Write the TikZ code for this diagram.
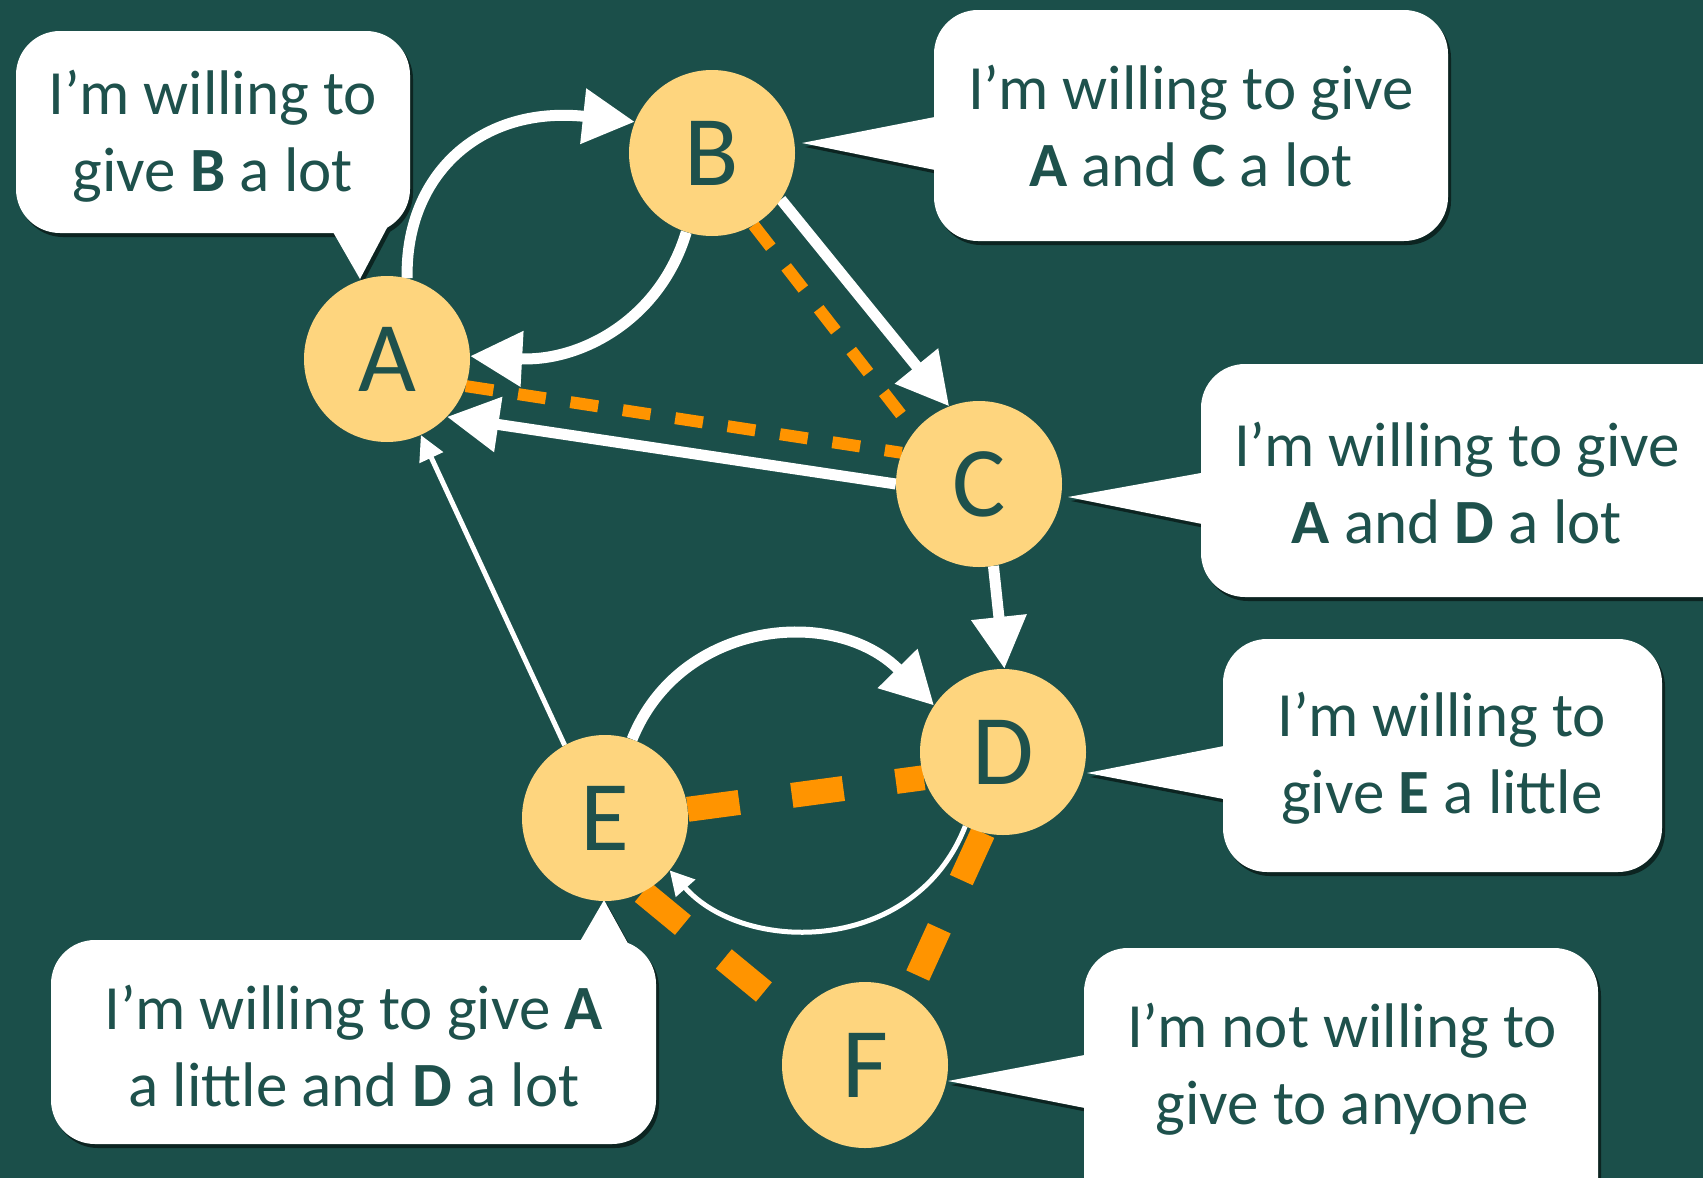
\documentclass[tikz,border=0pt]{standalone}
\usepackage{fontspec}
\setmainfont{Carlito}
\usetikzlibrary{arrows.meta}

\definecolor{bg}{HTML}{1B4F4A}
\definecolor{ink}{HTML}{1E514C}
\definecolor{disc}{HTML}{FED57E}
\definecolor{tangerine}{HTML}{FF9400}
\colorlet{bubbleshade}{bg!45!black}

\pgfdeclarelayer{back}
\pgfsetlayers{back,main}

% speech bubbles: rounded boxes plus their pointed tails
\newcommand\bubbleshapes{%
  \fill[rounded corners=44pt] (16,31) rectangle (410,233);
  \fill (329,225) -- (360,279) -- (398,207) -- cycle;
  \fill[rounded corners=44pt] (934,10) rectangle (1448,241);
  \fill (945,115) -- (802,143) -- (945,172) -- cycle;
  \fill[rounded corners=44pt] (1201,364) rectangle (1760,597);
  \fill (1212,471) -- (1068,497) -- (1212,526) -- cycle;
  \fill[rounded corners=44pt] (1223,639) rectangle (1662,872);
  \fill (1234,744) -- (1087,773) -- (1234,801) -- cycle;
  \fill[rounded corners=44pt] (51,940) rectangle (656,1144);
  \fill (575,950) -- (604,900) -- (636,958) -- cycle;
  \fill[rounded corners=44pt] (1084,948) rectangle (1598,1240);
  \fill (1095,1053) -- (948,1081) -- (1095,1110) -- cycle;
}

\begin{document}
\begin{tikzpicture}[x=1pt,y=-1pt,
  person/.style={circle, fill=disc, minimum size=166pt, inner sep=0pt,
    text=ink, font=\fontsize{100}{100}\selectfont},
  say/.style={align=center, text=ink, inner sep=0pt,
    font=\fontsize{63}{77}\selectfont},
  bigarrow/.style={draw=white, line width=11pt,
    -{Triangle[length=52pt,width=53pt]}},
  midarrow/.style={draw=white, line width=5pt,
    -{Triangle[length=24pt,width=25pt]}},
  thinarrow/.style={draw=white, line width=5pt,
    -{Triangle[length=25pt,width=25pt]}},
  thindash/.style={draw=tangerine, line width=12pt,
    dash pattern=on 28pt off 25pt},
  thickdash/.style={draw=tangerine, line width=25pt,
    dash pattern=on 52pt off 53pt},
]
\useasboundingbox (0,0) rectangle (1703,1178);
\begin{pgfonlayer}{back}
  \fill[bg] (0,0) rectangle (1703,1178);
\end{pgfonlayer}
\clip (0,0) rectangle (1703,1178);

% bubbles with their shadows
\begin{scope}[xshift=3pt, yshift=-4pt, fill=bubbleshade]
  \bubbleshapes
\end{scope}
\begin{scope}[fill=white]
  \bubbleshapes
\end{scope}

\node[say] (sayA) at (213,136) {I’m willing to\\give \textbf{B} a lot};
\node[say] (sayB) at (1191,126) {I’m willing to give\\\textbf{A} and \textbf{C} a lot};
\node[say] (sayC) at (1457,483) {I’m willing to give\\\textbf{A} and \textbf{D} a lot};
\node[say] (sayD) at (1442,758) {I’m willing to\\give \textbf{E} a little};
\node[say] (sayE) at (354,1046) {I’m willing to give \textbf{A}\\a little and \textbf{D} a lot};
\node[say] (sayF) at (1342,1069) {I’m not willing to\\give to anyone};

% the six people
\node[person] (A) at (387,359) {A};
\node[person] (B) at (712,153) {B};
\node[person] (C) at (979,484) {C};
\node[person] (D) at (1003,752) {D};
\node[person] (E) at (605,818) {E};
\node[person] (F) at (865,1065) {F};

\begin{pgfonlayer}{back}
  % orange dashed ties
  \draw[thindash] (B.-60) -- (C.141);
  \draw[thindash] (A.-19) -- (C.158);
  \draw[thickdash] (E.6) -- (D.-162);
  \draw[thickdash] (E.-63) -- (F.146);
  \draw[thickdash] (D.-104) -- (F.58);
  % white giving arrows
  \draw[bigarrow] (A.76) .. controls (405,175) and (480,105) .. (B.158);
  \draw[bigarrow] (B.-108) .. controls (660,320) and (580,362) .. (A.2);
  \draw[bigarrow] (B.-34) -- (C.111);
  \draw[bigarrow] (C.180) -- (A.-44);
  \draw[bigarrow] (C.-80) -- (D.89);
  \draw[bigarrow] (E.71) .. controls (680,620) and (835,605) .. (D.146);
  \draw[midarrow] (D.-117) .. controls (915,955) and (745,955) .. (E.-39);
  \draw[thinarrow] (E.119) -- (A.-66);
\end{pgfonlayer}
\end{tikzpicture}
\end{document}
